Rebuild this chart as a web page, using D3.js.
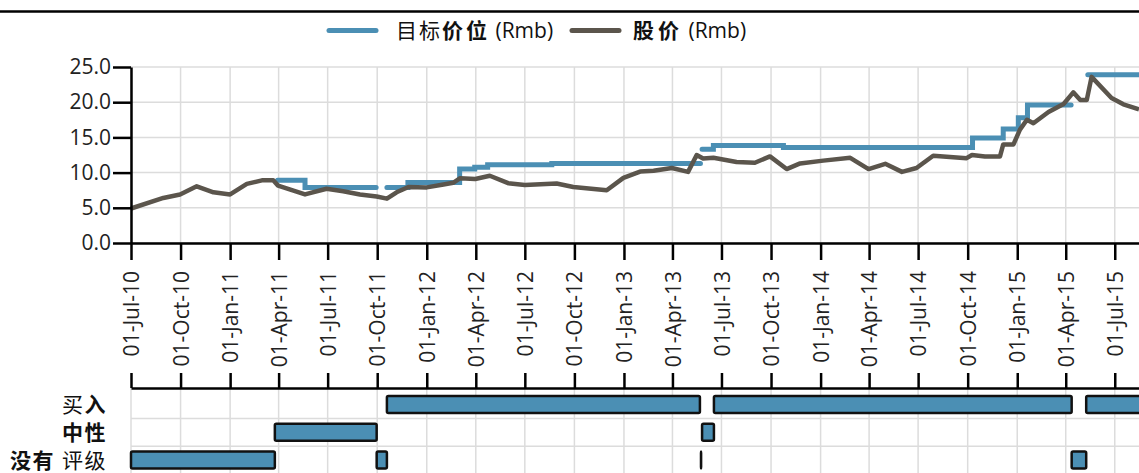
<!DOCTYPE html>
<html lang="zh">
<head>
<meta charset="utf-8">
<script src="https://d3js.org/d3.v7.min.js"></script>
<style>
  body { margin: 0; background: #fff; }
  svg { display: block; font-family: "Open Sans", "Noto Sans CJK SC", sans-serif; }
  .grid line { stroke: #dcdcdc; stroke-width: 1.5; }
  .axis path, .axis line { stroke: #000; stroke-width: 2.5; }
  .axis text { font-size: 21px; fill: #222; font-family: "Open Sans", sans-serif; }
</style>
</head>
<body>
<svg id="chart" width="1139" height="473"></svg>
<script>
// share price (Rmb)
const priceDates = ["2010-07-01","2010-08-30","2010-09-30","2010-10-31","2010-12-01","2011-01-01","2011-02-01","2011-03-01","2011-03-22","2011-03-31",
  "2011-05-20","2011-06-29","2011-07-30","2011-08-30","2011-09-30","2011-10-19","2011-11-06","2011-11-28","2012-01-01","2012-02-01",
  "2012-02-19","2012-03-03","2012-03-31","2012-04-27","2012-05-31","2012-07-01","2012-08-29","2012-09-29","2012-11-30","2012-12-31",
  "2013-01-31","2013-02-25","2013-03-31","2013-04-30","2013-05-16","2013-05-28","2013-06-16","2013-07-29","2013-09-01","2013-09-29",
  "2013-10-30","2013-11-24","2014-01-06","2014-02-25","2014-03-31","2014-05-01","2014-06-01","2014-06-28","2014-07-29","2014-09-29",
  "2014-10-09","2014-11-02","2014-11-30","2014-12-06","2014-12-25","2015-01-06","2015-01-19","2015-01-31","2015-02-28","2015-03-28",
  "2015-04-15","2015-04-28","2015-05-10","2015-05-19","2015-06-25","2015-07-17","2015-08-15"];
const priceValues = [4.9,6.4,6.9,8.05,7.2,6.9,8.4,8.9,8.9,8.15,
  6.9,7.7,7.35,6.9,6.6,6.3,7.2,7.95,7.9,8.3,
  8.55,9.2,9.1,9.55,8.5,8.25,8.45,7.95,7.5,9.25,
  10.15,10.25,10.65,10.1,12.5,12.0,12.1,11.5,11.4,12.3,
  10.5,11.3,11.7,12.1,10.5,11.25,10.1,10.65,12.4,12.05,
  12.5,12.3,12.3,14.0,14.0,16.1,17.5,17.0,18.6,19.75,
  21.4,20.3,20.3,23.6,20.6,19.7,19.0];

// target price (Rmb), null = no target from that date
const targetDates = ["2011-03-30","2011-05-20","2011-09-29","2011-10-19","2011-11-27","2012-03-02","2012-03-30","2012-04-23","2012-08-20","2013-05-23",
  "2013-05-26","2013-06-16","2013-10-24","2014-10-10","2014-12-06","2015-01-03","2015-01-20","2015-04-11","2015-05-12","2015-09-30"];
const targetValues = [8.9,7.9,null,7.9,8.6,10.5,10.75,11.1,11.3,null,
  13.3,13.85,13.55,14.9,16.2,17.8,19.6,null,23.9,null];

// rating history
const ratingNames = ["买入", "中性", "没有评级"];
const ratingRow = ["没有评级","中性","没有评级","买入","没有评级","中性","买入","没有评级","买入"];
const ratingStart = ["2010-07-01","2011-03-25","2011-09-30","2011-10-19","2013-05-24","2013-05-26","2013-06-17","2015-04-12","2015-05-09"];
const ratingEnd = ["2011-03-25","2011-09-30","2011-10-19","2013-05-22","2013-05-24","2013-06-17","2015-04-12","2015-05-09","2015-09-30"];

const yTicks = [0, 5, 10, 15, 20, 25];

const blue = "#4b8fb4";
const dark = "#5b554c";
const parse = d3.timeParse("%Y-%m-%d");

const svg = d3.select("#chart");
const width = 1139;

const x = d3.scaleTime()
  .domain([parse("2010-07-01"), parse("2015-08-15")])
  .range([131, width]);
const y = d3.scaleLinear().domain([0, 25]).range([243, 67]);
const row = d3.scalePoint().domain(ratingNames).range([404.5, 460]);

const xTicks = x.ticks(d3.timeMonth.every(3));

// top rule
svg.append("line")
  .attr("x1", 0).attr("x2", width).attr("y1", 11.5).attr("y2", 11.5)
  .attr("stroke", "#000").attr("stroke-width", 2.5);

// legend
const legend = svg.append("g");
legend.append("line").attr("x1", 329).attr("x2", 376).attr("y1", 30.5).attr("y2", 30.5)
  .attr("stroke", blue).attr("stroke-width", 5).attr("stroke-linecap", "round");
const lt1 = legend.append("text").attr("x", 396).attr("y", 37.5).attr("font-size", 21).attr("fill", "#111");
lt1.append("tspan").attr("font-weight", 400).attr("letter-spacing", 2).text("目标");
lt1.append("tspan").attr("font-weight", 700).attr("letter-spacing", 3).text("价位");
lt1.append("tspan").attr("font-weight", 400).text(" (Rmb)");
legend.append("line").attr("x1", 572).attr("x2", 619).attr("y1", 30.5).attr("y2", 30.5)
  .attr("stroke", dark).attr("stroke-width", 5).attr("stroke-linecap", "round");
const lt2 = legend.append("text").attr("x", 633).attr("y", 37.5).attr("font-size", 21).attr("fill", "#111");
lt2.append("tspan").attr("font-weight", 700).attr("letter-spacing", 4).text("股价");
lt2.append("tspan").attr("font-weight", 400).text(" (Rmb)");

// upper grid
const grid = svg.append("g").attr("class", "grid");
grid.selectAll(".hy").data(yTicks).join("line")
  .attr("x1", 131).attr("x2", width)
  .attr("y1", d => y(d)).attr("y2", d => y(d));
grid.selectAll(".vx").data(xTicks).join("line").attr("class", "vx")
  .attr("x1", d => x(d)).attr("x2", d => x(d))
  .attr("y1", y(25)).attr("y2", y(0));

// lower grid
const grid2 = svg.append("g").attr("class", "grid");
grid2.selectAll("line.v").data(xTicks).join("line").attr("class", "v")
  .attr("x1", d => x(d)).attr("x2", d => x(d))
  .attr("y1", 388).attr("y2", 473);
grid2.selectAll("line.h").data(ratingNames.slice(1)).join("line").attr("class", "h")
  .attr("x1", 131).attr("x2", width)
  .attr("y1", d => row(d) - row.step() / 2).attr("y2", d => row(d) - row.step() / 2);

// target price step line
const targetSegments = [];
let seg = [];
targetDates.forEach((d, i) => {
  if (targetValues[i] == null) return;
  seg.push({ date: parse(d), value: targetValues[i] });
  if (i + 1 < targetDates.length && targetValues[i + 1] == null) {
    seg.push({ date: parse(targetDates[i + 1]), value: targetValues[i] });
    targetSegments.push(seg);
    seg = [];
  }
});
if (seg.length) targetSegments.push(seg);

const stepLine = d3.line().x(d => x(d.date)).y(d => y(d.value)).curve(d3.curveStepAfter);
svg.append("g").selectAll("path").data(targetSegments).join("path")
  .attr("d", stepLine)
  .attr("fill", "none").attr("stroke", blue).attr("stroke-width", 5)
  .attr("stroke-linecap", "round");

// price line
const price = priceDates.map((d, i) => ({ date: parse(d), value: priceValues[i] }));
svg.append("path").datum(price)
  .attr("d", d3.line().x(d => x(d.date)).y(d => y(d.value)))
  .attr("fill", "none").attr("stroke", dark).attr("stroke-width", 4.5)
  .attr("stroke-linejoin", "round");

// axes
svg.append("g").attr("class", "axis")
  .attr("transform", "translate(131,0)")
  .call(d3.axisLeft(y).tickValues(yTicks).tickFormat(d3.format(".1f")).tickSize(18).tickSizeOuter(0).tickPadding(2));

const xAxis = svg.append("g").attr("class", "axis")
  .attr("transform", "translate(0,243)")
  .call(d3.axisBottom(x).tickValues(xTicks).tickFormat(d3.timeFormat("%d-%b-%y")).tickSize(17).tickSizeOuter(0));
xAxis.selectAll("text")
  .attr("transform", "rotate(-90)")
  .attr("text-anchor", "end")
  .attr("x", -28).attr("y", 0).attr("dy", "0.36em");

svg.append("g").attr("class", "axis")
  .attr("transform", "translate(0,388)")
  .call(d3.axisTop(x).tickValues(xTicks).tickFormat("").tickSize(15).tickSizeOuter(0));

// rating bars
svg.append("g").selectAll("rect").data(ratingRow.map((r, i) => ({ r, s: parse(ratingStart[i]), e: parse(ratingEnd[i]) })))
  .join("rect")
  .attr("x", d => x(d.s))
  .attr("width", d => Math.max(x(d.e) - x(d.s), 0.1))
  .attr("y", d => row(d.r) - 8.5)
  .attr("height", 17)
  .attr("rx", 1.5)
  .attr("fill", blue).attr("stroke", "#111").attr("stroke-width", 2.5);

// rating labels (mixed weights as in the source)
const labelParts = {
  "买入": [["买", 400], ["入", 700]],
  "中性": [["中性", 700]],
  "没有评级": [["没有", 700], ["评级", 400]]
};
const rl = svg.append("g").selectAll("text").data(ratingNames).join("text")
  .attr("x", 107).attr("y", d => row(d) + 7.5)
  .attr("text-anchor", "end").attr("font-size", 21).attr("fill", "#111")
  .attr("letter-spacing", 1.5);
rl.each(function (d) {
  const t = d3.select(this);
  labelParts[d].forEach((p, i) => {
    t.append("tspan").attr("font-weight", p[1]).text((i > 0 && d === "没有评级" ? " " : "") + p[0]);
  });
});
</script>
</body>
</html>
